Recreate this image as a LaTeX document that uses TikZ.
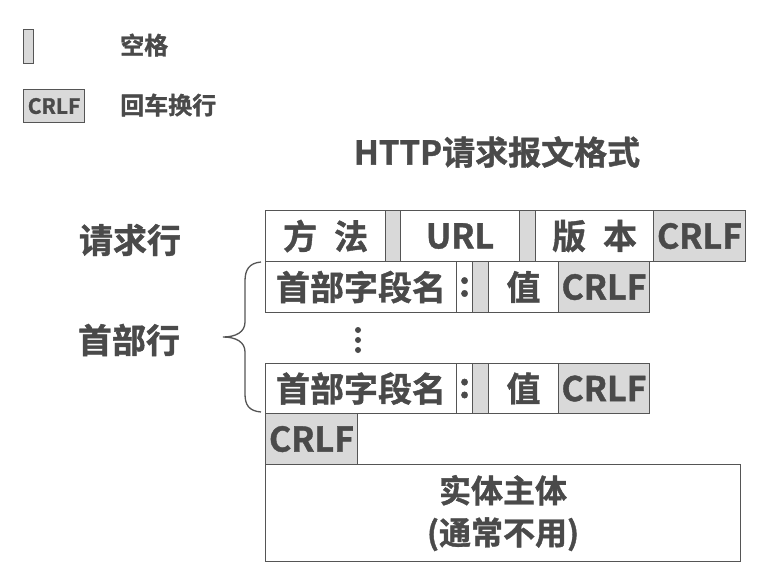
\documentclass[tikz,border=0pt]{standalone}
\usepackage{fontspec}
\setmainfont{Noto Sans CJK SC}[BoldFont={Noto Sans CJK SC Bold},BoldFeatures={FakeBold=1.2}]
\begin{document}
\begin{tikzpicture}[x=1pt,y=-1pt,
  txt/.style={text=textgray,font=\bfseries\fontsize{33}{36}\selectfont,inner sep=0pt},
  cell/.style={draw=linegray,line width=1.1pt,fill=white,anchor=north west,inner sep=0pt,
     text=textgray,font=\bfseries\fontsize{34}{36}\selectfont},
  gcell/.style={cell,fill=cellgray},
  ]
\definecolor{textgray}{HTML}{4A4A4A}
\definecolor{linegray}{HTML}{555555}
\definecolor{cellgray}{HTML}{D9D9D9}
\useasboundingbox (0,0) rectangle (771,573);
\fill[white] (0,0) rectangle (771,573);
% legend
\node[gcell,minimum width=10pt,minimum height=34pt] (lsp) at (23,29) {};
\node[txt,font=\bfseries\fontsize{24}{26}\selectfont,anchor=west] (lspt) at (120,45) {空格};
\node[gcell,minimum width=61pt,minimum height=33pt,font=\bfseries\fontsize{21}{24}\selectfont] (lcr) at (23,89) {CRLF};
\node[txt,font=\bfseries\fontsize{24}{26}\selectfont,anchor=west] (lcrt) at (120,105) {回车换行};
% title
\node[txt,font=\bfseries\fontsize{33}{36}\selectfont] (title) at (497,152) {HTTP请求报文格式};
% labels
\node[txt,font=\bfseries\fontsize{34}{36}\selectfont] (lreq) at (130,240) {请求行};
\node[txt,font=\bfseries\fontsize{34}{36}\selectfont] (lhdr) at (129,340) {首部行};
% request line
\node[cell,minimum width=120pt,minimum height=51pt] (meth) at (265,210) {方\hspace{0.5em}法};
\node[gcell,minimum width=15pt,minimum height=51pt] (sp1) at (385,210) {};
\node[cell,minimum width=119pt,minimum height=51pt] (url) at (400,210) {URL};
\node[gcell,minimum width=16pt,minimum height=51pt] (sp2) at (519,210) {};
\node[cell,minimum width=118pt,minimum height=51pt] (ver) at (535,210) {版\hspace{0.5em}本};
\node[gcell,minimum width=92pt,minimum height=51pt] (cr1) at (653,210) {CRLF};
% header line 1
\node[cell,minimum width=191pt,minimum height=51pt] (h1n) at (265,261) {首部字段名};
\node[cell,minimum width=16pt,minimum height=51pt] (h1c) at (456,261) {:};
\node[gcell,minimum width=16pt,minimum height=51pt] (h1s) at (472,261) {};
\node[cell,minimum width=70pt,minimum height=51pt] (h1v) at (488,261) {值};
\node[gcell,minimum width=91pt,minimum height=51pt] (h1cr) at (558,261) {CRLF};
% dots
\foreach \yy in {330,340,350} \fill[textgray] (358,\yy) circle (3pt);
% header line 2
\node[cell,minimum width=191pt,minimum height=50pt] (h2n) at (265,363) {首部字段名};
\node[cell,minimum width=16pt,minimum height=50pt] (h2c) at (456,363) {:};
\node[gcell,minimum width=16pt,minimum height=50pt] (h2s) at (472,363) {};
\node[cell,minimum width=70pt,minimum height=50pt] (h2v) at (488,363) {值};
\node[gcell,minimum width=91pt,minimum height=50pt] (h2cr) at (558,363) {CRLF};
% blank line
\node[gcell,minimum width=92pt,minimum height=51pt] (cr3) at (265,413) {CRLF};
% body
\node[cell,minimum width=475pt,minimum height=97pt,align=center,font=\bfseries\fontsize{32}{42}\selectfont] (body) at (265,464) {实体主体\\(通常不用)};
% brace
\draw[linegray,line width=1.3pt] (261,262) .. controls (249,263) and (245,270) .. (245,281) -- (245,322) .. controls (245,332) and (236,337) .. (223,337) .. controls (236,337) and (245,342) .. (245,352) -- (245,394) .. controls (245,405) and (249,411) .. (261,412);
\end{tikzpicture}
\end{document}
